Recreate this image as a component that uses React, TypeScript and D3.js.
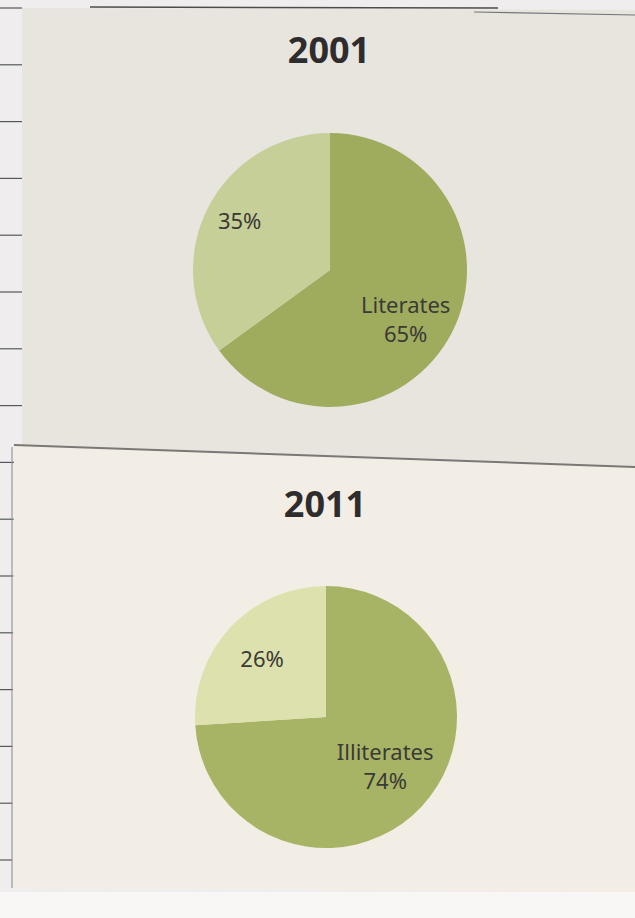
import * as d3 from 'd3'

// chart values
const years = ['2001', '2011']
const darkShare = [65, 74]
const lightShare = [35, 26]
const darkNames = ['Literates', 'Illiterates']

const W = 635
const H = 918

// layout of each photographed panel
const panels = [
  { cx: 330, cy: 270, r: 137, titleY: 63, darkR: 0.62, lightR: 0.74, nudge: 11, lightNudge: -3,
    dark: '#9fac5e', light: '#c7cf98', bg: '#e8e5df' },
  { cx: 326, cy: 717, r: 131, titleY: 517, darkR: 0.62, lightR: 0.67, nudge: -6, lightNudge: 2,
    dark: '#a8b465', light: '#dde1ad', bg: '#f2eee6' },
]

const font = "'Noto Sans', 'Open Sans', sans-serif"

function Pie({ i }: { i: number }) {
  const p = panels[i]
  const values = [darkShare[i], lightShare[i]]
  const arcs = d3.pie<number>().sort(null).value(d => d)(values)
  const arc = d3.arc<d3.PieArcDatum<number>>().innerRadius(0).outerRadius(p.r)
  const darkLabel = d3.arc<d3.PieArcDatum<number>>()
    .innerRadius(p.r * p.darkR).outerRadius(p.r * p.darkR)
  const lightLabel = d3.arc<d3.PieArcDatum<number>>()
    .innerRadius(p.r * p.lightR).outerRadius(p.r * p.lightR)

  const [dx, dy] = darkLabel.centroid(arcs[0])
  const [lx, ly] = lightLabel.centroid(arcs[1])

  return (
    <g>
      <text x={p.cx - 1} y={p.titleY} textAnchor="middle" fontFamily={font}
        fontWeight={700} fontSize={36} fill="#2e2c2c">{years[i]}</text>
      <g transform={`translate(${p.cx},${p.cy})`}>
        <path d={arc(arcs[0]) ?? ''} fill={p.dark} />
        <path d={arc(arcs[1]) ?? ''} fill={p.light} />
        <text x={dx} y={dy + p.nudge} textAnchor="middle" fontFamily={font}
          fontSize={22} fill="#3a3a36">
          <tspan x={dx} dy={-7}>{darkNames[i]}</tspan>
          <tspan x={dx} dy={29}>{darkShare[i]}%</tspan>
        </text>
        <text x={lx} y={ly + 8 + p.lightNudge} textAnchor="middle" fontFamily={font}
          fontSize={22} fill="#3a3a36">{lightShare[i]}%</text>
      </g>
    </g>
  )
}

export default function App() {
  // faint notebook rules peeking out on the left of the photo
  const rules = d3.range(8, H - 20, 56.8)
  return (
    <svg width={W} height={H} style={{ position: 'absolute', left: 0, top: 0, display: 'block' }}>
      <rect width={W} height={H} fill="#efedee" />
      {rules.map(y => (
        <line key={y} x1={0} x2={22} y1={y} y2={y} stroke="#55585a" strokeWidth={1.2} />
      ))}
      <polygon points={`22,8 ${W},10 ${W},467 22,445`} fill={panels[0].bg} />
      <polygon points={`14,445 ${W},467 ${W},892 12,888`} fill={panels[1].bg} />
      <line x1={90} x2={498} y1={7} y2={8} stroke="#4d4b4b" strokeWidth={1.5} />
      <line x1={474} x2={W} y1={12} y2={15} stroke="#77757a" strokeWidth={1.2} />
      <line x1={14} x2={W} y1={445} y2={467} stroke="#7a7774" strokeWidth={2} />
      <line x1={12} x2={12} y1={447} y2={888} stroke="#8a8885" strokeWidth={1} />
      <rect x={0} y={892} width={W} height={26} fill="#f8f7f6" />
      <Pie i={0} />
      <Pie i={1} />
    </svg>
  )
}
